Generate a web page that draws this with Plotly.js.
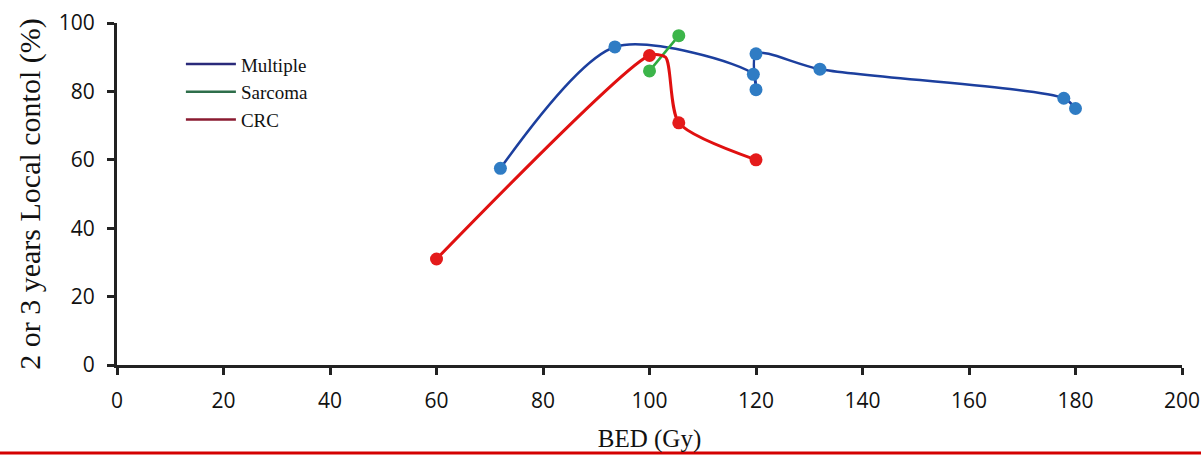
<!DOCTYPE html>
<html><head><meta charset="utf-8">
<script src="https://cdn.plot.ly/plotly-3.0.1.min.js"></script>
<style>html,body{margin:0;padding:0;background:#fff}#chart{width:1201px;height:457px}</style>
</head><body><div id="chart"></div>
<script>
const multipleX = [72, 93.5, 119.5, 120, 120, 132, 177.8, 180];
const multipleY = [57.5, 93, 85, 80.5, 91, 86.5, 78, 75];
const sarcomaX = [100, 105.5];
const sarcomaY = [86, 96.3];
const crcX = [60, 100, 103, 105.5, 120];
const crcY = [31, 90.5, 90, 70.8, 60];
const crcMarkX = [60, 100, 105.5, 120];
const crcMarkY = [31, 90.5, 70.8, 60];
const xTicks = [0, 20, 40, 60, 80, 100, 120, 140, 160, 180, 200];
const yTicks = [0, 20, 40, 60, 80, 100];

const traces = [
  {x: multipleX, y: multipleY, name: 'Multiple', mode: 'lines+markers',
   line: {color: '#1c3f9e', width: 2.5, shape: 'spline', smoothing: 0.8},
   marker: {color: '#2f7cc4', size: 13}, showlegend: false},
  {x: sarcomaX, y: sarcomaY, name: 'Sarcoma', mode: 'lines+markers',
   line: {color: '#2eaa3e', width: 2.5},
   marker: {color: '#3cb54a', size: 13}, showlegend: false},
  {x: crcX, y: crcY, name: 'CRC', mode: 'lines',
   line: {color: '#e01010', width: 3, shape: 'spline', smoothing: 0.7}, showlegend: false},
  {x: crcMarkX, y: crcMarkY, name: 'CRC', mode: 'markers',
   marker: {color: '#e41b1b', size: 13}, showlegend: false},
  {x: [null], y: [null], name: 'Multiple', mode: 'lines', line: {color: '#2a2a7a', width: 2.5}},
  {x: [null], y: [null], name: 'Sarcoma', mode: 'lines', line: {color: '#2e6e4a', width: 2.5}},
  {x: [null], y: [null], name: 'CRC', mode: 'lines', line: {color: '#8a1a30', width: 2.5}}
];

const layout = {
  width: 1201, height: 457,
  margin: {l: 117, r: 19, t: 23, b: 92},
  paper_bgcolor: '#ffffff', plot_bgcolor: '#ffffff',
  showlegend: true,
  legend: {x: 0.06, y: 0.935, xanchor: 'left', yanchor: 'top', bgcolor: 'rgba(0,0,0,0)',
           font: {family: 'Liberation Serif', size: 19, color: '#111'}, itemwidth: 50, tracegroupgap: 0},
  xaxis: {range: [0, 200], tickvals: xTicks, ticktext: xTicks.map(String),
          showgrid: false, zeroline: false, showline: true, linecolor: '#222', linewidth: 3,
          ticks: 'outside', ticklen: 7, tickwidth: 3, tickcolor: '#222', ticklabelstandoff: 8,
          tickfont: {family: 'Open Sans', size: 21, color: '#111'},
          title: {text: 'BED (Gy)', font: {family: 'Liberation Serif', size: 25, color: '#111'}, standoff: 17}},
  yaxis: {range: [0, 100], tickvals: yTicks, ticktext: yTicks.map(String),
          showgrid: false, zeroline: false, showline: true, linecolor: '#222', linewidth: 3,
          ticks: 'outside', ticklen: 7, tickwidth: 3, tickcolor: '#222', ticklabelstandoff: 8,
          tickfont: {family: 'Open Sans', size: 21, color: '#111'},
          title: {text: '2 or 3 years Local contol (%)', font: {family: 'Liberation Serif', size: 30, color: '#111'}, standoff: 10}},
  shapes: [{type: 'line', xref: 'paper', yref: 'paper', x0: -0.11, x1: 1.02, y0: -0.257, y1: -0.257,
            line: {color: '#d40000', width: 3}}]
};
Plotly.newPlot('chart', traces, layout, {displayModeBar: false, staticPlot: true});
</script></body></html>
